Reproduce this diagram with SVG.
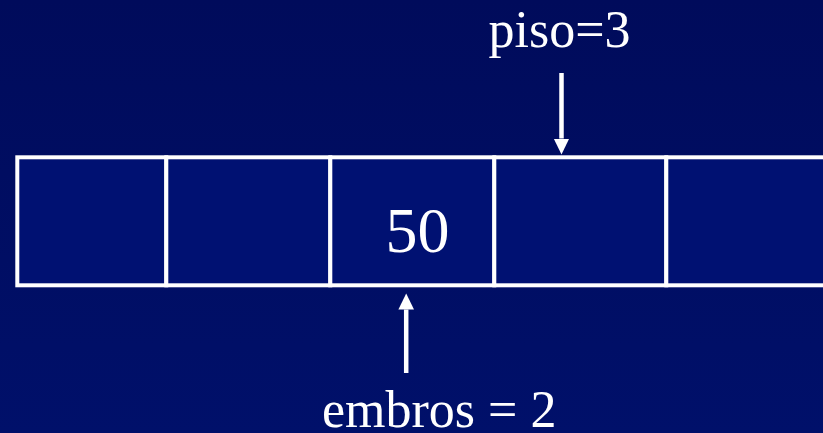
<svg xmlns="http://www.w3.org/2000/svg" width="823" height="433" viewBox="0 0 823 433">
  <defs>
    <linearGradient id="bg" x1="0" y1="0" x2="0" y2="1">
      <stop offset="0" stop-color="#000B5B"/>
      <stop offset="1" stop-color="#00106A"/>
    </linearGradient>
    <marker id="head" markerUnits="userSpaceOnUse" markerWidth="17" markerHeight="16" refX="0" refY="7.8" orient="auto" viewBox="0 0 17 16">
      <path d="M0,0 L16,7.8 L0,15.6 Z" fill="#FFFFFF"/>
    </marker>
    <style>
      .cell { fill: #001172; stroke: #FFFFFF; stroke-width: 4; }
      .lbl { font-family: "Liberation Serif", "Times New Roman", serif; fill: #FFFFFF; }
      .conn { stroke: #FFFFFF; stroke-width: 4.5; fill: none; marker-end: url(#head); }
    </style>
  </defs>
  <rect x="0" y="0" width="823" height="433" fill="url(#bg)"/>

  <g id="cell0"><rect class="cell" x="17.3" y="157.3" width="149" height="128"/></g>
  <g id="cell1"><rect class="cell" x="166.3" y="157.3" width="164" height="128"/></g>
  <g id="cell2">
    <rect class="cell" x="330.3" y="157.3" width="164" height="128"/>
    <text class="lbl" x="385.5" y="251.5" font-size="64">50</text>
  </g>
  <g id="cell3"><rect class="cell" x="494.3" y="157.3" width="172" height="128"/></g>
  <g id="cell4"><rect class="cell" x="666.3" y="157.3" width="170" height="128"/></g>

  <g id="piso">
    <text class="lbl" x="488.5" y="47" font-size="52">piso=3</text>
  </g>
  <g id="embros">
    <text class="lbl" x="322" y="427" font-size="52">embros = 2</text>
  </g>

  <g id="connectors">
    <line class="conn" x1="561.5" y1="73" x2="561.5" y2="138.5"/>
    <line class="conn" x1="406.2" y1="373" x2="406.2" y2="309.5"/>
  </g>
</svg>
